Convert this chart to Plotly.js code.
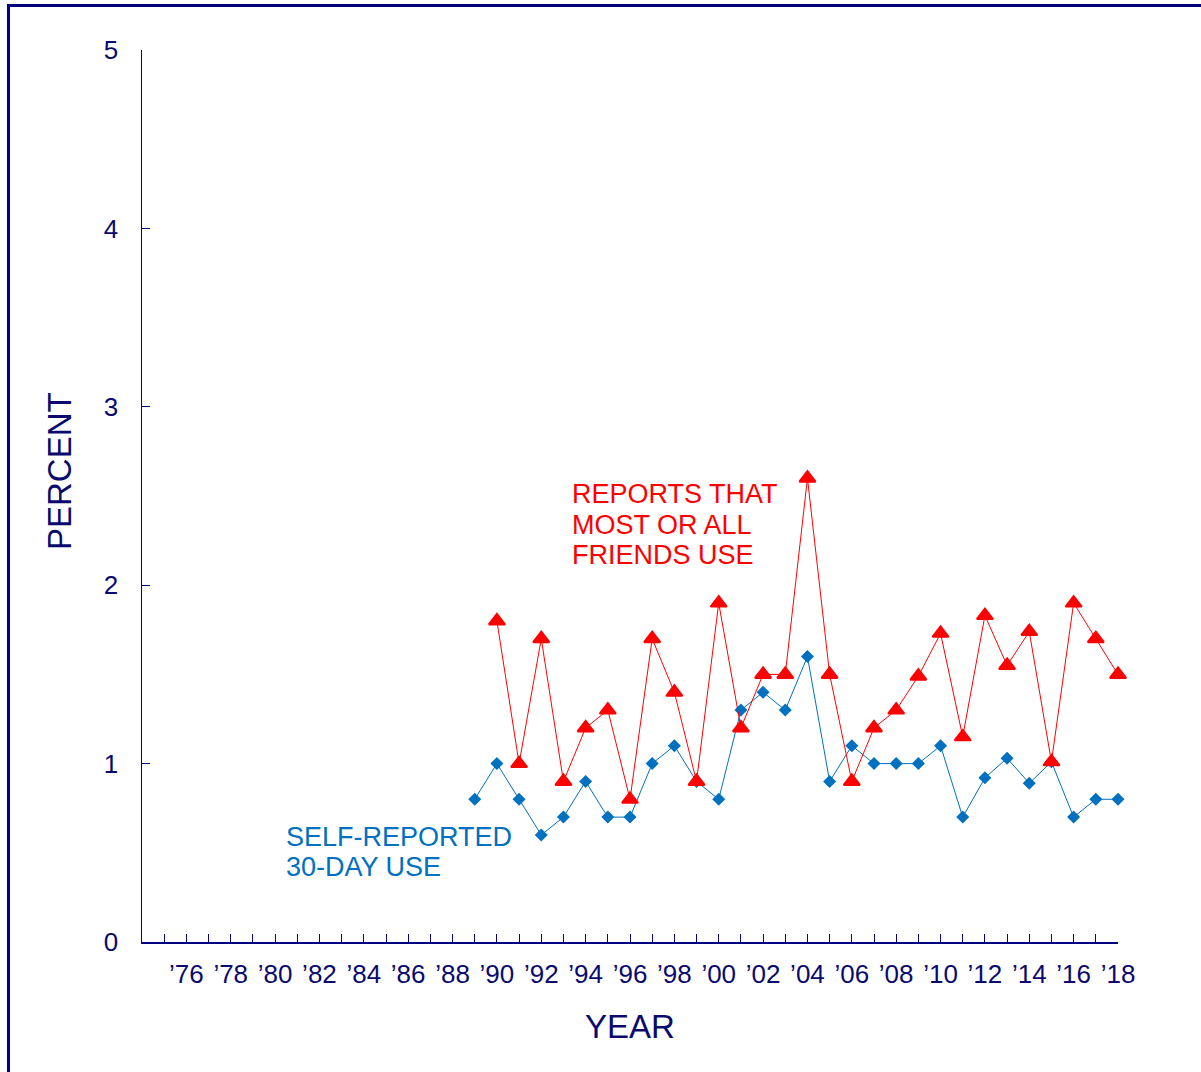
<!DOCTYPE html>
<html>
<head>
<meta charset="utf-8">
<script src="https://cdn.plot.ly/plotly-3.0.1.min.js"></script>
<style>
  html, body { margin: 0; padding: 0; background: #ffffff; }
  #chart { width: 1201px; height: 1072px; }
</style>
</head>
<body>
<div id="chart"></div>
<script>
// Years
var selfYears = [1989,1990,1991,1992,1993,1994,1995,1996,1997,1998,1999,2000,2001,2002,2003,2004,2005,2006,2007,2008,2009,2010,2011,2012,2013,2014,2015,2016,2017,2018];
var selfUse   = [0.8,1.0,0.8,0.6,0.7,0.9,0.7,0.7,1.0,1.1,0.9,0.8,1.3,1.4,1.3,1.6,0.9,1.1,1.0,1.0,1.0,1.1,0.7,0.92,1.03,0.89,1.01,0.7,0.8,0.8];

var friendYears = [1990,1991,1992,1993,1994,1995,1996,1997,1998,1999,2000,2001,2002,2003,2004,2005,2006,2007,2008,2009,2010,2011,2012,2013,2014,2015,2016,2017,2018];
var friendsUse  = [1.8,1.0,1.7,0.9,1.2,1.3,0.8,1.7,1.4,0.9,1.9,1.2,1.5,1.5,2.6,1.5,0.9,1.2,1.3,1.49,1.73,1.15,1.83,1.55,1.74,1.01,1.9,1.7,1.5];

// Tick labels
var tickYears = [];
var tickLabels = [];
for (var yr = 1974; yr <= 2018; yr++) {
  tickYears.push(yr);
  tickLabels.push((yr >= 1976 && yr % 2 === 0) ? '\u2019' + String(yr).slice(2) : '');
}
var yTicks = [0,1,2,3,4,5];

var NAVY = '#000080';
var TEXT = '#0a0a6e';
var BLUE = '#0070C0';
var RED = '#FF0000';
var FONT = 'Arial, "Liberation Sans", sans-serif';

var traces = [
  {
    x: selfYears, y: selfUse, type: 'scatter', mode: 'lines+markers',
    line: {color: BLUE, width: 1},
    marker: {symbol: 'diamond', size: 10, color: BLUE},
    cliponaxis: false, hoverinfo: 'x+y', showlegend: false
  },
  {
    x: friendYears, y: friendsUse, type: 'scatter', mode: 'lines+markers',
    line: {color: RED, width: 1},
    marker: {symbol: 'triangle-up', size: 14, color: RED, line: {color: RED, width: 2}},
    cliponaxis: false, hoverinfo: 'x+y', showlegend: false
  }
];

function ann(text, x, y, color) {
  return {text: text, x: x, y: y, xref: 'x', yref: 'y', xanchor: 'left', yanchor: 'middle',
          showarrow: false, font: {family: FONT, size: 27, color: color}, align: 'left'};
}

var layout = {
  width: 1201, height: 1072,
  margin: {l: 142, r: 83, t: 50, b: 130, pad: 0},
  paper_bgcolor: '#ffffff', plot_bgcolor: '#ffffff',
  font: {family: FONT, color: TEXT},
  xaxis: {
    range: [1974, 2018], showgrid: false, zeroline: false,
    showline: true, linecolor: NAVY, linewidth: 1.5,
    tickmode: 'array', tickvals: tickYears, ticktext: tickLabels,
    ticks: 'inside', ticklen: 8, tickcolor: NAVY, tickwidth: 1,
    tickfont: {family: FONT, size: 26, color: TEXT},
    ticklabelstandoff: 8,
    title: {text: 'YEAR', font: {family: FONT, size: 33, color: TEXT}, standoff: 27},
    automargin: false
  },
  yaxis: {
    range: [0, 5], showgrid: false, zeroline: false,
    showline: true, linecolor: NAVY, linewidth: 1.5,
    tickmode: 'array', tickvals: yTicks,
    ticks: 'inside', ticklen: 8, tickcolor: NAVY, tickwidth: 1,
    tickfont: {family: FONT, size: 26, color: TEXT},
    ticklabelstandoff: 17,
    automargin: false
  },
  annotations: [
    ann('REPORTS THAT', 1993.3, 2.511, RED),
    ann('MOST OR ALL', 1993.3, 2.338, RED),
    ann('FRIENDS USE', 1993.3, 2.167, RED),
    ann('SELF-REPORTED', 1980.4, 0.589, BLUE),
    ann('30-DAY USE', 1980.4, 0.420, BLUE),
    {text: 'PERCENT', textangle: -90, xref: 'paper', yref: 'y',
     x: (59 - 142) / 976, y: 2.64, xanchor: 'center', yanchor: 'middle',
     showarrow: false, font: {family: FONT, size: 33, color: TEXT}}
  ],
  shapes: [
    {type: 'rect', xref: 'paper', yref: 'paper',
     x0: -0.1368, x1: 1.09, y0: -0.16, y1: 1.0499,
     line: {color: NAVY, width: 3}, fillcolor: 'rgba(0,0,0,0)', layer: 'below'}
  ]
};

Plotly.newPlot('chart', traces, layout, {displayModeBar: false, staticPlot: true});
</script>
</body>
</html>
